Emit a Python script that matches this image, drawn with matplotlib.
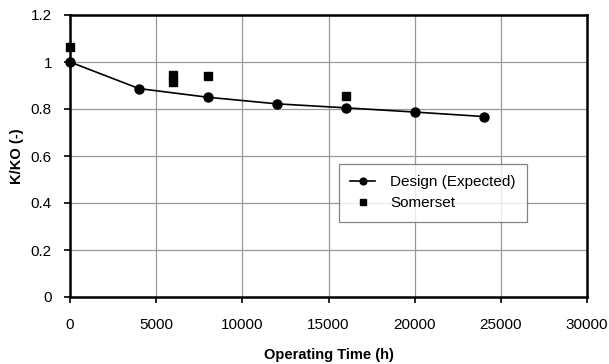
import matplotlib
matplotlib.use("Agg")
import matplotlib.pyplot as plt

plt.rcParams["font.family"] = ["Liberation Sans", "DejaVu Sans"]

design_time = [0, 4000, 8000, 12000, 16000, 20000, 24000]
design_k = [1.0, 0.887, 0.85, 0.822, 0.805, 0.787, 0.768]

somerset_time = [0, 6000, 6000, 8000, 16000]
somerset_k = [1.065, 0.945, 0.915, 0.94, 0.855]

x_ticks = [0, 5000, 10000, 15000, 20000, 25000, 30000]
y_ticks = [0, 0.2, 0.4, 0.6, 0.8, 1, 1.2]
y_labels = ["0", "0.2", "0.4", "0.6", "0.8", "1", "1.2"]

fig = plt.figure(figsize=(6.09, 3.64), dpi=100)
left, right, top, bottom = 70, 587, 15, 297
ax = fig.add_axes([left / 609, 1 - bottom / 364, (right - left) / 609, (bottom - top) / 364])

ax.plot(design_time, design_k, color="black", linewidth=1.2, marker="o",
        markersize=6.5, label="Design (Expected)", zorder=3, clip_on=False)
ax.plot(somerset_time, somerset_k, linestyle="none", color="black", marker="s",
        markersize=6, label="Somerset", zorder=3, clip_on=False)

ax.set_xlim(0, 30000)
ax.set_ylim(0, 1.2)
ax.set_xticks(x_ticks)
ax.set_yticks(y_ticks)
ax.set_yticklabels(y_labels)
ax.grid(True, color="#999999", linewidth=0.9)
ax.set_axisbelow(True)
for spine in ax.spines.values():
    spine.set_linewidth(1.8)
    spine.set_color("black")
ax.tick_params(direction="out", length=4, width=1.2, labelsize=11, colors="black")
ax.tick_params(axis="y", pad=9)
ax.tick_params(axis="x", pad=11)

ax.set_xlabel("Operating Time (h)", fontsize=10.5, fontweight="bold", labelpad=12)
ax.set_ylabel("K/KO (-)", fontsize=10.5, fontweight="bold", labelpad=5)

w, h = right - left, bottom - top
leg = ax.legend(loc="upper left", bbox_to_anchor=((339 - left) / w, (bottom - 164) / h),
                frameon=True, fancybox=False, fontsize=11, borderpad=0.75,
                handlelength=1.6, handletextpad=1.0, labelspacing=0.45,
                markerscale=0.75, borderaxespad=0)
leg.get_frame().set_edgecolor("#666666")
leg.get_frame().set_linewidth(0.9)

fig.savefig("out.png", dpi=100)
